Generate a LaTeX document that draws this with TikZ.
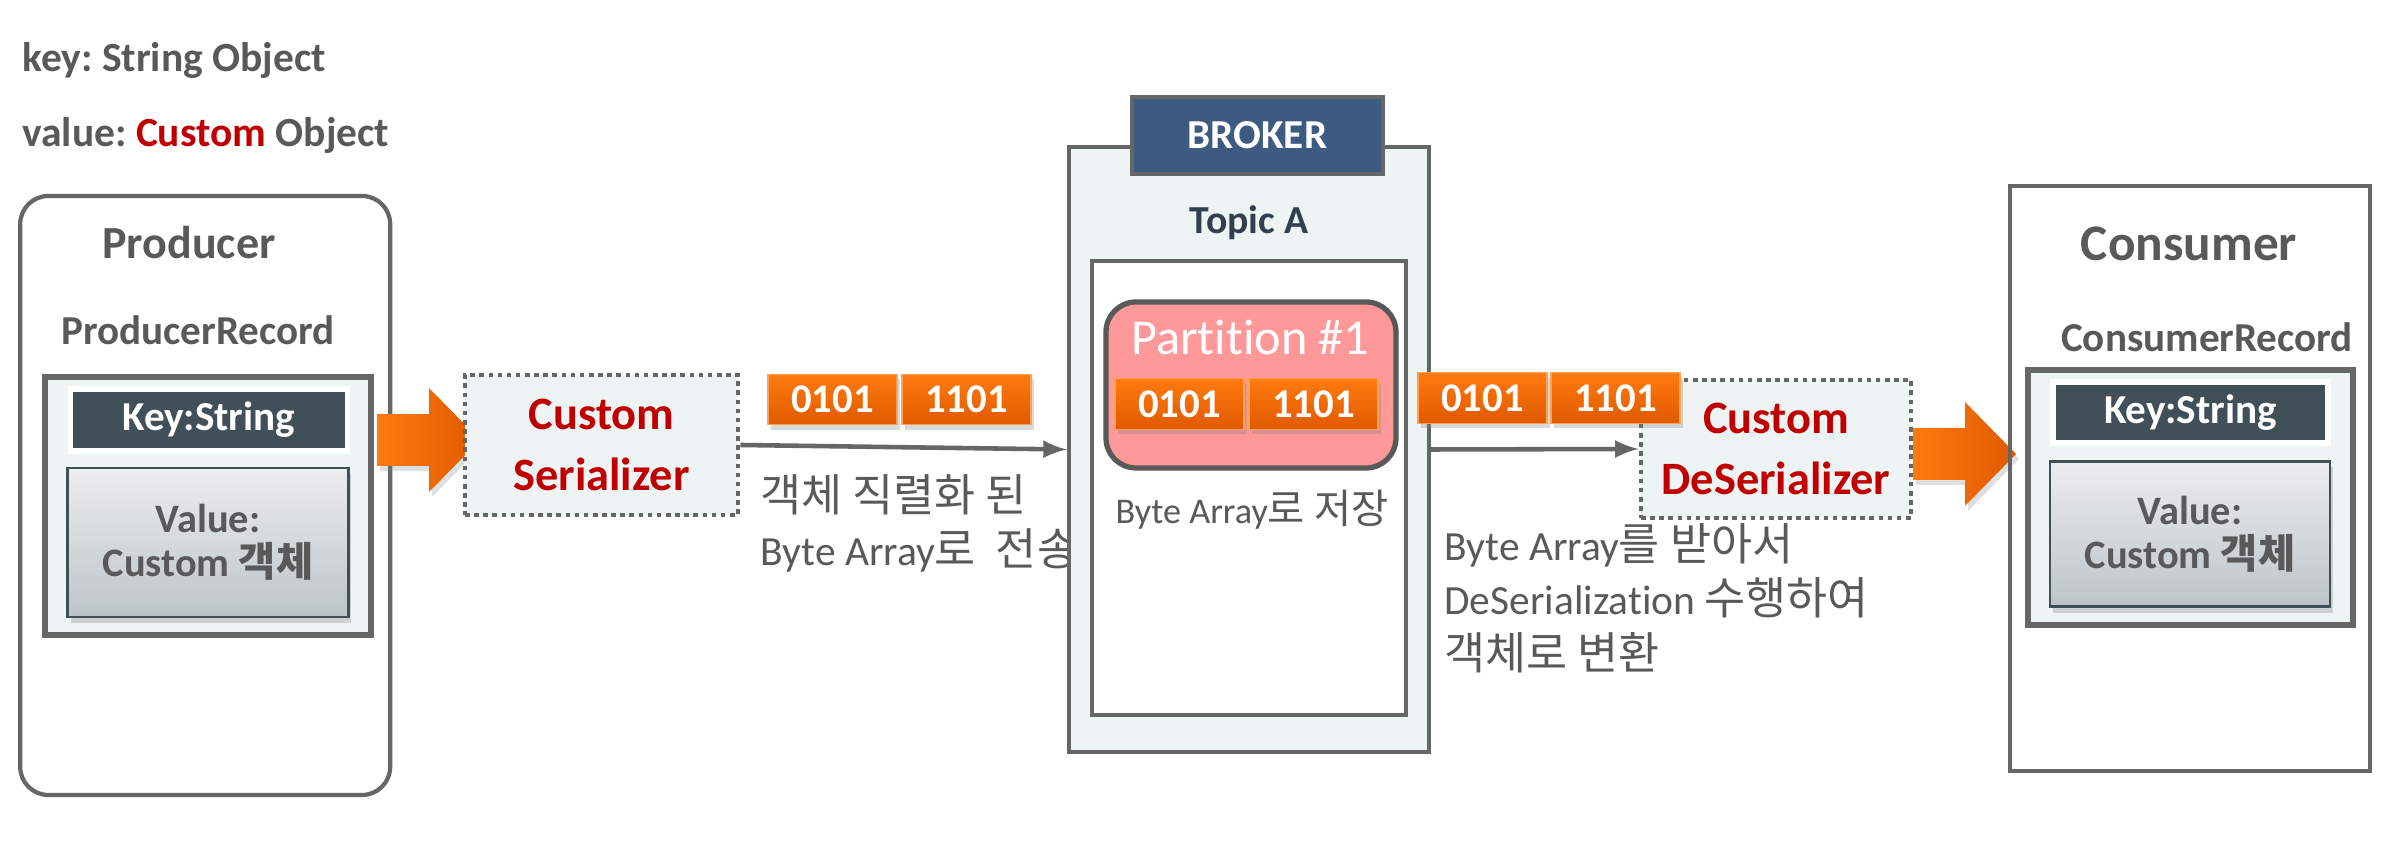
\documentclass[tikz,border=0pt]{standalone}
\usepackage{fontspec}
\setmainfont[Ligatures=NoCommon]{Carlito}
\newfontfamily\kr{Noto Sans CJK KR}
\usetikzlibrary{shadows, calc}
\definecolor{txtgray}{HTML}{595959}
\definecolor{lineg}{HTML}{666666}
\definecolor{darkred}{HTML}{C00000}
\definecolor{paleg}{HTML}{EEF3F3}
\definecolor{slate}{HTML}{415058}
\definecolor{topicc}{HTML}{323F4F}
\definecolor{brokerblue}{HTML}{3D5A80}
\definecolor{partpink}{HTML}{FF9999}
\definecolor{orangeA}{HTML}{FF7A0E}
\definecolor{orangeB}{HTML}{E05A00}
\definecolor{valtop}{HTML}{EBEEEF}
\definecolor{valbot}{HTML}{BDC4C8}
\tikzset{bytebox/.style={rectangle, minimum width=1.29cm, minimum height=0.45cm,
top color=orangeA, bottom color=orangeB, draw=orangeA!70!white, line width=0.4pt,
text=white, font=\bfseries\fontsize{11.6}{12}\selectfont,
drop shadow={shadow xshift=0.03cm, shadow yshift=-0.05cm, opacity=0.3}}}
\tikzset{dotbox/.style={rectangle, draw=lineg, line width=1.3pt,
dash pattern=on 1.3pt off 1.3pt, fill=paleg, text=darkred, align=center,
font=\bfseries\fontsize{13.2}{17.4}\selectfont}}
\tikzset{recbox/.style={rectangle, draw=lineg, line width=1.5pt, fill=paleg}}
\tikzset{keybox/.style={rectangle, fill=slate, draw=white, line width=1.5pt,
text=white, font=\bfseries\fontsize{11.7}{12}\selectfont}}
\tikzset{valbox/.style={rectangle, top color=valtop, bottom color=valbot,
draw=slate, line width=0.8pt, text=txtgray, align=center,
font=\bfseries\fontsize{11.5}{12.4}\selectfont,
drop shadow={shadow xshift=0.03cm, shadow yshift=-0.06cm, opacity=0.3}}}
\tikzset{fatarrow/.style={left color=orangeA, right color=orangeB,
drop shadow={shadow xshift=0.03cm, shadow yshift=-0.05cm, opacity=0.25}}}
\tikzset{thinarr/.style={-latex, draw=lineg, line width=1.3pt}}
\tikzset{lbl/.style={text=txtgray, font=\fontsize{11.8}{15.5}\selectfont, align=left}}
\newcommand{\bits}[2]{ node[bytebox, name={#1}] {#2}}
\newcommand{\krl}[1]{{\kr\fontsize{12.7}{15.5}\selectfont #1}}
\newcommand{\fatarrowpath}[1]{ ($(#1)+(0,0.26)$) -- ++(0.52,0) -- ++(0,0.26) -- ++(0.51,-0.52) -- ++(-0.51,-0.52) -- ++(0,0.26) -- ++(-0.52,0) -- cycle}
\frenchspacing

\begin{document}
\begin{tikzpicture}
\useasboundingbox (0,0) rectangle (24.06,8.52);

\node [anchor=west, text=txtgray, font=\bfseries\fontsize{11.8}{12}\selectfont] (keyl) at (0.1, 7.92) {key: String Object};
\node [anchor=west, text=txtgray, font=\bfseries\fontsize{11.8}{12}\selectfont] (vall) at (0.1, 7.17) {value: \textcolor{darkred}{Custom} Object};

\node[rectangle,
rounded corners = 8pt,
draw = lineg, line width = 1.2pt,
minimum width = 3.70cm,
minimum height = 5.99cm] (prod) at (2.052, 3.565) {};
\node [text=txtgray, font=\bfseries\fontsize{13.1}{14}\selectfont] (prodt) at (1.89, 6.09) {Producer};
\node [text=txtgray, font=\bfseries\fontsize{11.7}{12}\selectfont] (prodr) at (1.98, 5.22) {ProducerRecord};
\node [recbox, minimum width = 3.26cm, minimum height = 2.58cm] (prec) at (2.08, 3.46) {};
\node [keybox, minimum width = 2.77cm, minimum height = 0.62cm] (pkey) at (2.087, 4.32) {Key:String};
\node [valbox, minimum width = 2.805cm, minimum height = 1.49cm] (pval) at (2.08, 3.095) {Value:\\Custom {\kr 객체}};

\coordinate (fa1) at (3.77, 4.12);
\path [fatarrow] \fatarrowpath{fa1};
\node [dotbox, minimum width = 2.73cm, minimum height = 1.40cm] (ser) at (6.015, 4.07) {Custom\\Serializer};

\draw [] (8.325, 4.525) \bits{b1}{0101};
\draw [] (9.665, 4.525) \bits{b2}{1101};
\node [lbl, anchor=west] (sendl) at (7.48, 3.285) {\krl{객체 직렬화 된}\\Byte Array\krl{로 \ 전송}};

\node[rectangle,
fill = paleg,
draw = lineg, line width = 1.2pt,
minimum width = 3.60cm,
minimum height = 6.05cm] (brk) at (12.49, 4.025) {};
\node[rectangle,
fill = brokerblue,
draw = lineg, line width = 1.2pt,
minimum width = 2.51cm,
minimum height = 0.77cm,
text = white, font = \bfseries\fontsize{11.7}{12}\selectfont] (tab) at (12.575, 7.165) {BROKER};
\node [text=topicc, font=\bfseries\fontsize{11.3}{12}\selectfont] (topic) at (12.49, 6.29) {Topic A};
\node[rectangle,
fill = white,
draw = lineg, line width = 1.2pt,
minimum width = 3.14cm,
minimum height = 4.54cm] (tbox) at (12.49, 3.64) {};
\node[rectangle,
rounded corners = 0.3cm,
fill = partpink,
draw = txtgray, line width = 1.5pt,
minimum width = 2.90cm,
minimum height = 1.66cm] (part) at (12.51, 4.67) {};
\node [anchor=west, text=white, font=\fontsize{14.3}{15}\selectfont] (partt) at (11.19, 5.15) {Partition \#1};
\draw [] (11.795, 4.48) \bits{b3}{0101};
\draw [] (13.135, 4.48) \bits{b4}{1101};
\node [lbl, font=\fontsize{10.3}{12}\selectfont] (storel) at (12.52, 3.42) {Byte Array{\kr\fontsize{11.5}{12}\selectfont 로 저장}};

\node [dotbox, minimum width = 2.70cm, minimum height = 1.38cm] (des) at (17.76, 4.03) {Custom\\DeSerializer};
\draw [] (14.825, 4.54) \bits{b5}{0101};
\draw [] (16.155, 4.54) \bits{b6}{1101};
\node [lbl, anchor=west] (recvl) at (14.32, 2.54) {Byte Array\krl{를 받아서}\\DeSerialization \krl{수행하여}\\\krl{객체로 변환}};

\coordinate (fa2) at (19.13, 3.98);
\path [fatarrow] \fatarrowpath{fa2};

\node[rectangle,
draw = lineg, line width = 1.2pt,
minimum width = 3.60cm,
minimum height = 5.85cm] (cons) at (21.90, 3.735) {};
\node [text=txtgray, font=\bfseries\fontsize{14.6}{15}\selectfont] (const) at (21.89, 6.08) {Consumer};
\node [text=txtgray, font=\bfseries\fontsize{11.7}{12}\selectfont] (consr) at (22.07, 5.15) {ConsumerRecord};
\node [recbox, minimum width = 3.25cm, minimum height = 2.55cm] (crec) at (21.905, 3.545) {};
\node [keybox, minimum width = 2.75cm, minimum height = 0.61cm] (ckey) at (21.905, 4.395) {Key:String};
\node [valbox, minimum width = 2.80cm, minimum height = 1.455cm] (cval) at (21.90, 3.18) {Value:\\Custom {\kr 객체}};

\draw [thinarr] (ser.east) -- (brk.west);
\draw [thinarr] (brk.east) -- (des.west);

\end{tikzpicture}
\end{document}
